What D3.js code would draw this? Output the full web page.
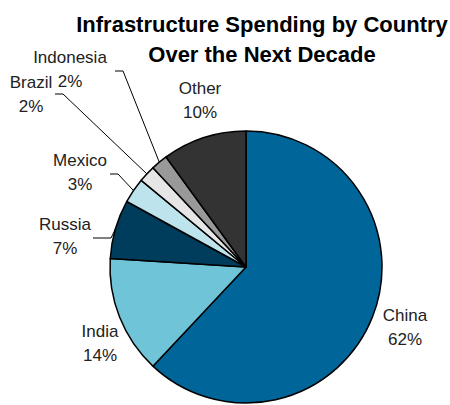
<!DOCTYPE html>
<html>
<head>
<meta charset="utf-8">
<script src="https://cdn.jsdelivr.net/npm/d3@7"></script>
<style>
  html, body { margin: 0; padding: 0; background: #fff; }
  svg { display: block; }
  text { font-family: "Liberation Sans", Arial, sans-serif; fill: #222; }
</style>
</head>
<body>
<svg id="chart" width="450" height="405"></svg>
<script>
// Share of infrastructure spending over the next decade, by country (%)
const countries = ["China", "India", "Russia", "Mexico", "Brazil", "Indonesia", "Other"];
const shares = [62, 14, 7, 3, 2, 2, 10];
const sliceColors = ["#006699", "#70c4d8", "#003d5c", "#bde4ec", "#e6e6e6", "#999999", "#333333"];
const titleLines = ["Infrastructure Spending by Country", "Over the Next Decade"];

const W = 450, H = 405;
const cx = 246, cy = 267, radius = 136;

// label anchors (name line baseline); leader = elbow start x, elbow y, elbow end x
const labelLayout = {
  China:     { x: 405, y: 321 },
  India:     { x: 100, y: 337 },
  Russia:    { x: 65,  y: 230, leader: [93, 238, 111] },
  Mexico:    { x: 80,  y: 166, leader: [110, 174, 118] },
  Brazil:    { x: 31,  y: 88,  leader: [55, 94, 63] },
  Indonesia: { x: 70,  y: 63,  leader: [115, 71, 123] },
  Other:     { x: 200, y: 94 }
};

const data = countries.map((c, i) => ({ country: c, share: shares[i], color: sliceColors[i] }));

const svg = d3.select("#chart");

// title
svg.append("text")
  .attr("x", 262).attr("text-anchor", "middle")
  .style("font-size", "22px").style("font-weight", "bold").style("fill", "#000")
  .selectAll("tspan").data(titleLines).join("tspan")
  .attr("x", 262).attr("y", (d, i) => 32 + i * 30)
  .text(d => d);

const pie = d3.pie().sort(null).value(d => d.share);
const arcs = pie(data);
const arcGen = d3.arc().innerRadius(0).outerRadius(radius);

const g = svg.append("g").attr("transform", `translate(${cx},${cy})`);

g.selectAll("path.slice").data(arcs).join("path")
  .attr("class", "slice")
  .attr("d", arcGen)
  .attr("fill", d => d.data.color)
  .attr("stroke", "#000")
  .attr("stroke-width", 1.5)
  .attr("stroke-linejoin", "round");

// leader lines for the small slices
arcs.forEach(a => {
  const lay = labelLayout[a.data.country];
  if (!lay.leader) return;
  const mid = (a.startAngle + a.endAngle) / 2;
  const ex = cx + radius * Math.sin(mid);
  const ey = cy - radius * Math.cos(mid);
  const [x0, y0, x1] = lay.leader;
  svg.append("polyline")
    .attr("points", `${x0},${y0} ${x1},${y0} ${ex},${ey}`)
    .attr("fill", "none")
    .attr("stroke", "#000")
    .attr("stroke-width", 1);
});

// category + percentage labels
arcs.forEach(a => {
  const lay = labelLayout[a.data.country];
  const t = svg.append("text")
    .attr("text-anchor", "middle")
    .style("font-size", "17px");
  t.append("tspan").attr("x", lay.x).attr("y", lay.y).text(a.data.country);
  t.append("tspan").attr("x", lay.x).attr("y", lay.y + 24).text(d3.format(".0f")(a.data.share) + "%");
});
</script>
</body>
</html>
